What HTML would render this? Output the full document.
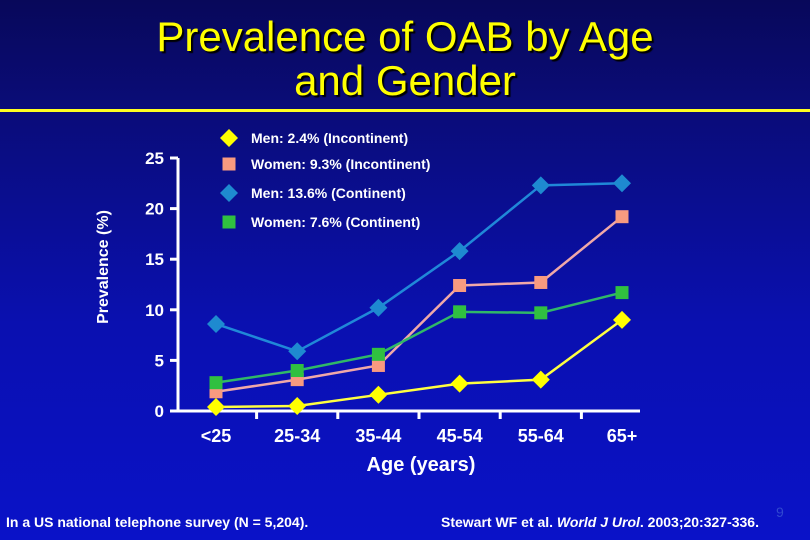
<!DOCTYPE html>
<html><head><meta charset="utf-8"><style>
html,body{margin:0;padding:0}
body{width:810px;height:540px;overflow:hidden;background:linear-gradient(#08085a 0%,#0a0c78 20%,#0a10b0 60%,#0a12c8 100%);font-family:"Liberation Sans",sans-serif;position:relative}
.t{position:absolute;color:#fff;font-weight:bold}
</style></head><body>
<div style="position:absolute;left:0;top:15px;width:810px;text-align:center;color:#ffff00;font-size:42px;line-height:44px;text-shadow:2px 2px 1px #000">Prevalence of OAB by Age<br>and Gender</div>
<div style="position:absolute;left:0;top:109px;width:810px;height:3px;background:#ffff20"></div>
<svg id="c" width="810" height="540" style="position:absolute;left:0;top:0" font-family="Liberation Sans, sans-serif"></svg>
<div class="t" style="left:6px;top:514px;font-size:14px">In a US national telephone survey (N = 5,204).</div>
<div class="t" style="left:441px;top:514px;font-size:14px">Stewart WF et al. <i>World J Urol</i>. 2003;20:327-336.</div>
<div style="position:absolute;left:776px;top:504px;font-size:14px;color:#3048d0">9</div>
<script>
const categories=["<25","25-34","35-44","45-54","55-64","65+"];
const yTicks=[0,5,10,15,20,25];
const menInc=[0.4,0.5,1.6,2.7,3.1,9.0];
const womenInc=[1.9,3.1,4.5,12.4,12.7,19.2];
const menCont=[8.6,5.9,10.2,15.8,22.3,22.5];
const womenCont=[2.8,4.0,5.6,9.8,9.7,11.7];
const svg=document.getElementById('c');
const NS='http://www.w3.org/2000/svg';
function mk(t,a,p){const e=document.createElementNS(NS,t);for(const k in a)e.setAttribute(k,a[k]);(p||svg).appendChild(e);return e;}
const x0=178,xEnd=640,y0=411,yTop=158;
function xs(i){return 216+i*81.2;}
function ys(v){return y0-(v/25)*(y0-yTop);}
let ax=mk('line',{x1:x0,y1:yTop,x2:x0,y2:y0,stroke:'#fff','stroke-width':3});

let bx=mk('line',{x1:x0-8,y1:y0,x2:xEnd,y2:y0,stroke:'#fff','stroke-width':3});

yTicks.forEach(v=>{const y=ys(v);
 let l=mk('line',{x1:x0-8,y1:y,x2:x0,y2:y,stroke:'#fff','stroke-width':3});
 
 let t=mk('text',{x:164,y:y+6,'text-anchor':'end',fill:'#fff','font-size':17,'font-weight':'bold'});t.textContent=v;
 });
categories.forEach((c,i)=>{
 if(i>0){let l=mk('line',{x1:(xs(i)+xs(i-1))/2,y1:y0,x2:(xs(i)+xs(i-1))/2,y2:y0+8,stroke:'#fff','stroke-width':3});
 }
 let t=mk('text',{x:xs(i),y:442,'text-anchor':'middle',fill:'#fff','font-size':18,'font-weight':'bold'});t.textContent=c;
 });
let xt=mk('text',{x:421,y:471,'text-anchor':'middle',fill:'#fff','font-size':20,'font-weight':'bold'});xt.textContent='Age (years)';

let yt=mk('text',{x:0,y:0,transform:'translate(108,267) rotate(-90)','text-anchor':'middle',fill:'#fff','font-size':16,'font-weight':'bold'});yt.textContent='Prevalence (%)';

function marker(shape,cx,cy,fill,p){
 if(shape==='d') return mk('polygon',{points:`${cx},${cy-9} ${cx+9},${cy} ${cx},${cy+9} ${cx-9},${cy}`,fill:fill},p);
 return mk('rect',{x:cx-6.5,y:cy-6.5,width:13,height:13,fill:fill},p);}
const series=[
 {name:'men-continent',d:menCont,line:'#2088d8',fill:'#1e8ad0',s:'d'},
 {name:'women-incontinent',d:womenInc,line:'#f0a8a8',fill:'#f89a80',s:'s'},
 {name:'women-continent',d:womenCont,line:'#30b868',fill:'#30c040',s:'s'},
 {name:'men-incontinent',d:menInc,line:'#ffff40',fill:'#ffff00',s:'d'}];
series.forEach(s=>{
 const g=mk('g',{});
 let pl=mk('polyline',{points:s.d.map((v,i)=>xs(i)+','+ys(v)).join(' '),fill:'none',stroke:s.line,'stroke-width':2.5},g);
 
 s.d.forEach((v,i)=>{let m=marker(s.s,xs(i),ys(v),s.fill,g);
  });});
const legend=[['d','#ffff00','Men: 2.4% (Incontinent)',138],['s','#f89a80','Women: 9.3% (Incontinent)',164],['d','#1e8ad0','Men: 13.6% (Continent)',193],['s','#30c040','Women: 7.6% (Continent)',222]];
legend.forEach(l=>{const g=mk('g',{});
 marker(l[0],229,l[3],l[1],g);
 let t=mk('text',{x:251,y:l[3]+5,fill:'#fff','font-size':14,'font-weight':'bold'},g);t.textContent=l[2];});
</script>
</body></html>
